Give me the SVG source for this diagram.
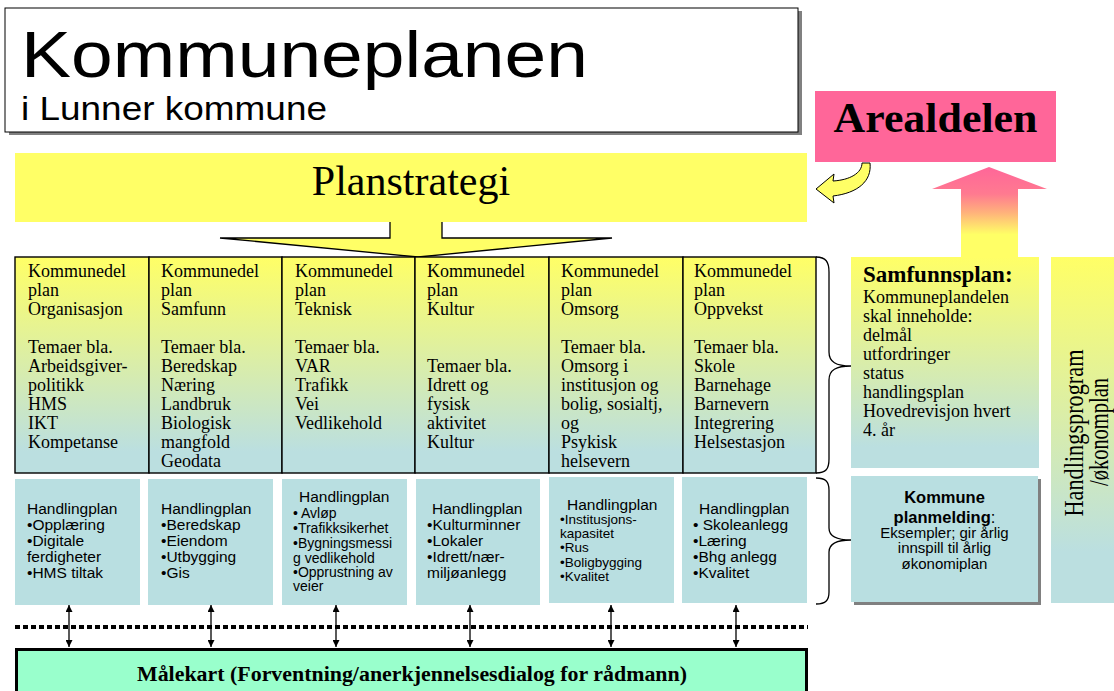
<svg xmlns="http://www.w3.org/2000/svg" width="1114" height="691" viewBox="0 0 1114 691">
<defs>
<linearGradient id="gCol" gradientUnits="userSpaceOnUse" x1="0" y1="257" x2="0" y2="473">
<stop offset="0" stop-color="#FFFF66"/><stop offset="0.9" stop-color="#BBDFE0"/><stop offset="1" stop-color="#BBDFE0"/>
</linearGradient>
<linearGradient id="gSam" gradientUnits="userSpaceOnUse" x1="0" y1="257" x2="0" y2="468">
<stop offset="0" stop-color="#FFFF66"/><stop offset="0.9" stop-color="#BBDFE0"/><stop offset="1" stop-color="#BBDFE0"/>
</linearGradient>
<linearGradient id="gHp" gradientUnits="userSpaceOnUse" x1="0" y1="257" x2="0" y2="603">
<stop offset="0" stop-color="#FFFF66"/><stop offset="0.85" stop-color="#BBDFE0"/><stop offset="1" stop-color="#BBDFE0"/>
</linearGradient>
<linearGradient id="gUp" gradientUnits="userSpaceOnUse" x1="0" y1="167" x2="0" y2="257">
<stop offset="0" stop-color="#FF6699"/><stop offset="0.3" stop-color="#FF7A90"/><stop offset="0.5" stop-color="#FFB07C"/><stop offset="0.75" stop-color="#FFFF66"/><stop offset="1" stop-color="#FFFF66"/>
</linearGradient>
<marker id="ah" viewBox="0 0 10 10" refX="10" refY="5" markerWidth="7" markerHeight="7" markerUnits="userSpaceOnUse" orient="auto-start-reverse">
<path d="M0,0 L10,5 L0,10 Z" fill="#000"/>
</marker>
</defs>
<style>
.serif{font-family:"Liberation Serif","Times New Roman",serif;fill:#000}
.sans{font-family:"Liberation Sans",Arial,sans-serif;fill:#000}
.col{font-size:18px}
.hp{font-size:15.5px}
.hps{font-size:14px}
.colrect{fill:url(#gCol);stroke:#000;stroke-width:1.4}
.hbox{fill:#B9DFE1}
.conn{fill:none;stroke:#000;stroke-width:1.3}
</style>
<rect width="1114" height="691" fill="#fff"/>

<g id="title">
<rect x="9" y="11" width="793" height="124" fill="#808080"/>
<rect x="5" y="8" width="793" height="124" fill="#fff" stroke="#000" stroke-width="1"/>
<text class="sans" x="21" y="77" font-size="65" textLength="567" lengthAdjust="spacingAndGlyphs">Kommuneplanen</text>
<text class="sans" x="21" y="120" font-size="33" textLength="306" lengthAdjust="spacingAndGlyphs">i Lunner kommune</text>
</g>

<g id="arealdelen">
<rect x="815" y="91" width="241" height="71" fill="#FF6699"/>
<text class="serif" x="935.5" y="132" font-size="43" font-weight="bold" text-anchor="middle" textLength="204" lengthAdjust="spacingAndGlyphs">Arealdelen</text>
</g>

<g id="planstrategi">
<rect x="15" y="153" width="792" height="69" fill="#FFFF66"/>
<text class="serif" x="411" y="195" font-size="42" text-anchor="middle">Planstrategi</text>
</g>

<g id="connectors">
<path d="M390,221 L390,238 L220,238 L418,257 L612,238 L442,238 L442,221 Z" fill="#FFFF66"/>
<path d="M390,222 L390,238 L220,238 L418,257 L612,238 L442,238 L442,222" class="conn"/>
<path d="M816,189 L834,174 L833,181 C850,180 862,173 862,163 L870,163 C872,181 858,193 833,196 L834,203 Z" fill="#FFFF66" stroke="#000" stroke-width="1"/>
<path d="M989,167 L1047,189 L1018,189 L1018,257 L961,257 L961,189 L932,189 Z" fill="url(#gUp)"/>
<path d="M816,257 C826,257 829,262 829,272 L829,352 C829,362 836,366 851,366 C836,366 829,370 829,380 L829,459 C829,469 826,473 816,473" class="conn"/>
<path d="M816,478 C826,478 829,482 829,490 L829,528 C829,536 836,540 851,540 C836,540 829,544 829,552 L829,592 C829,600 826,604 816,604" class="conn"/>
<line x1="15" y1="627" x2="808" y2="627" stroke="#000" stroke-width="4" stroke-dasharray="5 3"/>
<g stroke="#000" stroke-width="1.3" marker-start="url(#ah)" marker-end="url(#ah)">
<line x1="69" y1="605" x2="69" y2="647"/>
<line x1="211" y1="605" x2="211" y2="647"/>
<line x1="336" y1="605" x2="336" y2="647"/>
<line x1="470" y1="605" x2="470" y2="647"/>
<line x1="611" y1="605" x2="611" y2="647"/>
<line x1="736" y1="605" x2="736" y2="647"/>
</g>
</g>

<g id="kdp-organisasjon">
<rect class="colrect" x="15" y="257" width="134" height="216"/>
<text class="serif col"><tspan x="28" y="277">Kommunedel</tspan><tspan x="28" y="296">plan</tspan><tspan x="28" y="315">Organisasjon</tspan><tspan x="28" y="353">Temaer bla.</tspan><tspan x="28" y="372">Arbeidsgiver-</tspan><tspan x="28" y="391">politikk</tspan><tspan x="28" y="410">HMS</tspan><tspan x="28" y="429">IKT</tspan><tspan x="28" y="448">Kompetanse</tspan></text>
</g>
<g id="kdp-samfunn">
<rect class="colrect" x="149" y="257" width="133" height="216"/>
<text class="serif col"><tspan x="161" y="277">Kommunedel</tspan><tspan x="161" y="296">plan</tspan><tspan x="161" y="315">Samfunn</tspan><tspan x="161" y="353">Temaer bla.</tspan><tspan x="161" y="372">Beredskap</tspan><tspan x="161" y="391">Næring</tspan><tspan x="161" y="410">Landbruk</tspan><tspan x="161" y="429">Biologisk</tspan><tspan x="161" y="448">mangfold</tspan><tspan x="161" y="467">Geodata</tspan></text>
</g>
<g id="kdp-teknisk">
<rect class="colrect" x="282" y="257" width="133" height="216"/>
<text class="serif col"><tspan x="295" y="277">Kommunedel</tspan><tspan x="295" y="296">plan</tspan><tspan x="295" y="315">Teknisk</tspan><tspan x="295" y="353">Temaer bla.</tspan><tspan x="295" y="372">VAR</tspan><tspan x="295" y="391">Trafikk</tspan><tspan x="295" y="410">Vei</tspan><tspan x="295" y="429">Vedlikehold</tspan></text>
</g>
<g id="kdp-kultur">
<rect class="colrect" x="415" y="257" width="134" height="216"/>
<text class="serif col"><tspan x="427" y="277">Kommunedel</tspan><tspan x="427" y="296">plan</tspan><tspan x="427" y="315">Kultur</tspan><tspan x="427" y="372">Temaer bla.</tspan><tspan x="427" y="391">Idrett og</tspan><tspan x="427" y="410">fysisk</tspan><tspan x="427" y="429">aktivitet</tspan><tspan x="427" y="448">Kultur</tspan></text>
</g>
<g id="kdp-omsorg">
<rect class="colrect" x="549" y="257" width="134" height="216"/>
<text class="serif col"><tspan x="561" y="277">Kommunedel</tspan><tspan x="561" y="296">plan</tspan><tspan x="561" y="315">Omsorg</tspan><tspan x="561" y="353">Temaer bla.</tspan><tspan x="561" y="372">Omsorg i</tspan><tspan x="561" y="391">institusjon og</tspan><tspan x="561" y="410">bolig, sosialtj,</tspan><tspan x="561" y="429">og</tspan><tspan x="561" y="448">Psykisk</tspan><tspan x="561" y="467">helsevern</tspan></text>
</g>
<g id="kdp-oppvekst">
<rect class="colrect" x="683" y="257" width="133" height="216"/>
<text class="serif col"><tspan x="694" y="277">Kommunedel</tspan><tspan x="694" y="296">plan</tspan><tspan x="694" y="315">Oppvekst</tspan><tspan x="694" y="353">Temaer bla.</tspan><tspan x="694" y="372">Skole</tspan><tspan x="694" y="391">Barnehage</tspan><tspan x="694" y="410">Barnevern</tspan><tspan x="694" y="429">Integrering</tspan><tspan x="694" y="448">Helsestasjon</tspan></text>
</g>

<g id="samfunnsplan">
<rect x="851" y="257" width="188" height="211" fill="url(#gSam)"/>
<text class="serif" x="863" y="282" font-size="23" font-weight="bold">Samfunnsplan:</text>
<text class="serif col"><tspan x="863" y="303">Kommuneplandelen</tspan><tspan x="863" y="322">skal inneholde:</tspan><tspan x="863" y="341">delmål</tspan><tspan x="863" y="360">utfordringer</tspan><tspan x="863" y="379">status</tspan><tspan x="863" y="398">handlingsplan</tspan><tspan x="863" y="417">Hovedrevisjon hvert</tspan><tspan x="863" y="436">4. år</tspan></text>
</g>

<g id="handlingsprogram">
<rect x="1051" y="257" width="63" height="346" fill="url(#gHp)"/>
<text class="serif" font-size="28" text-anchor="middle" transform="translate(1083,433) rotate(-90)" textLength="167" lengthAdjust="spacingAndGlyphs">Handlingsprogram</text>
<text class="serif" font-size="28" text-anchor="middle" transform="translate(1108,432) rotate(-90)" textLength="108" lengthAdjust="spacingAndGlyphs">/økonomplan</text>
</g>

<g id="hp-organisasjon">
<rect class="hbox" x="15" y="479" width="125" height="126"/>
<text class="sans hp"><tspan x="27" y="514">Handlingplan</tspan><tspan x="27" y="530">•Opplæring</tspan><tspan x="27" y="546">•Digitale</tspan><tspan x="27" y="562">ferdigheter</tspan><tspan x="27" y="578">•HMS tiltak</tspan></text>
</g>
<g id="hp-samfunn">
<rect class="hbox" x="148" y="479" width="125" height="126"/>
<text class="sans hp"><tspan x="161" y="514">Handlingplan</tspan><tspan x="161" y="530">•Beredskap</tspan><tspan x="161" y="546">•Eiendom</tspan><tspan x="161" y="562">•Utbygging</tspan><tspan x="161" y="578">•Gis</tspan></text>
</g>
<g id="hp-teknisk">
<rect class="hbox" x="282" y="479" width="125" height="126"/>
<text class="sans hp" x="299" y="502">Handlingplan</text>
<text class="sans hps"><tspan x="293" y="518">• Avløp</tspan><tspan x="293" y="533">•Trafikksikerhet</tspan><tspan x="293" y="548">•Bygningsmessi</tspan><tspan x="293" y="563">g vedlikehold</tspan><tspan x="293" y="577">•Opprustning av</tspan><tspan x="293" y="591">veier</tspan></text>
</g>
<g id="hp-kultur">
<rect class="hbox" x="416" y="479" width="124" height="126"/>
<text class="sans hp"><tspan x="432" y="514">Handlingplan</tspan><tspan x="427" y="530">•Kulturminner</tspan><tspan x="427" y="546">•Lokaler</tspan><tspan x="427" y="562">•Idrett/nær-</tspan><tspan x="427" y="578">miljøanlegg</tspan></text>
</g>
<g id="hp-omsorg">
<rect class="hbox" x="549" y="477" width="125" height="126"/>
<text class="sans hp" x="567" y="510">Handlingplan</text>
<text class="sans" font-size="13.5"><tspan x="560" y="524">•Institusjons-</tspan><tspan x="560" y="538">kapasitet</tspan><tspan x="560" y="552">•Rus</tspan><tspan x="560" y="567">•Boligbygging</tspan><tspan x="560" y="581">•Kvalitet</tspan></text>
</g>
<g id="hp-oppvekst">
<rect class="hbox" x="682" y="477" width="125" height="126"/>
<text class="sans hp"><tspan x="699" y="514">Handlingplan</tspan><tspan x="693" y="530">• Skoleanlegg</tspan><tspan x="693" y="546">•Læring</tspan><tspan x="693" y="562">•Bhg anlegg</tspan><tspan x="693" y="578">•Kvalitet</tspan></text>
</g>

<g id="kommuneplanmelding">
<rect x="854" y="479" width="187" height="126" fill="#808080"/>
<rect class="hbox" x="851" y="476" width="187" height="126"/>
<text class="sans" text-anchor="middle" font-size="16.5" font-weight="bold"><tspan x="944.5" y="503">Kommune</tspan><tspan x="944.5" y="523">planmelding<tspan font-weight="normal">:</tspan></tspan></text>
<text class="sans" text-anchor="middle" font-size="15"><tspan x="944.5" y="538">Eksempler; gir årlig</tspan><tspan x="944.5" y="553">innspill til årlig</tspan><tspan x="944.5" y="569">økonomiplan</tspan></text>
</g>

<g id="malekart">
<rect x="16.5" y="649.5" width="790" height="50" fill="#99FFCC" stroke="#000" stroke-width="3"/>
<text class="serif" x="412" y="681" font-size="20" font-weight="bold" text-anchor="middle" textLength="550" lengthAdjust="spacingAndGlyphs">Målekart (Forventning/anerkjennelsesdialog for rådmann)</text>
</g>
</svg>
